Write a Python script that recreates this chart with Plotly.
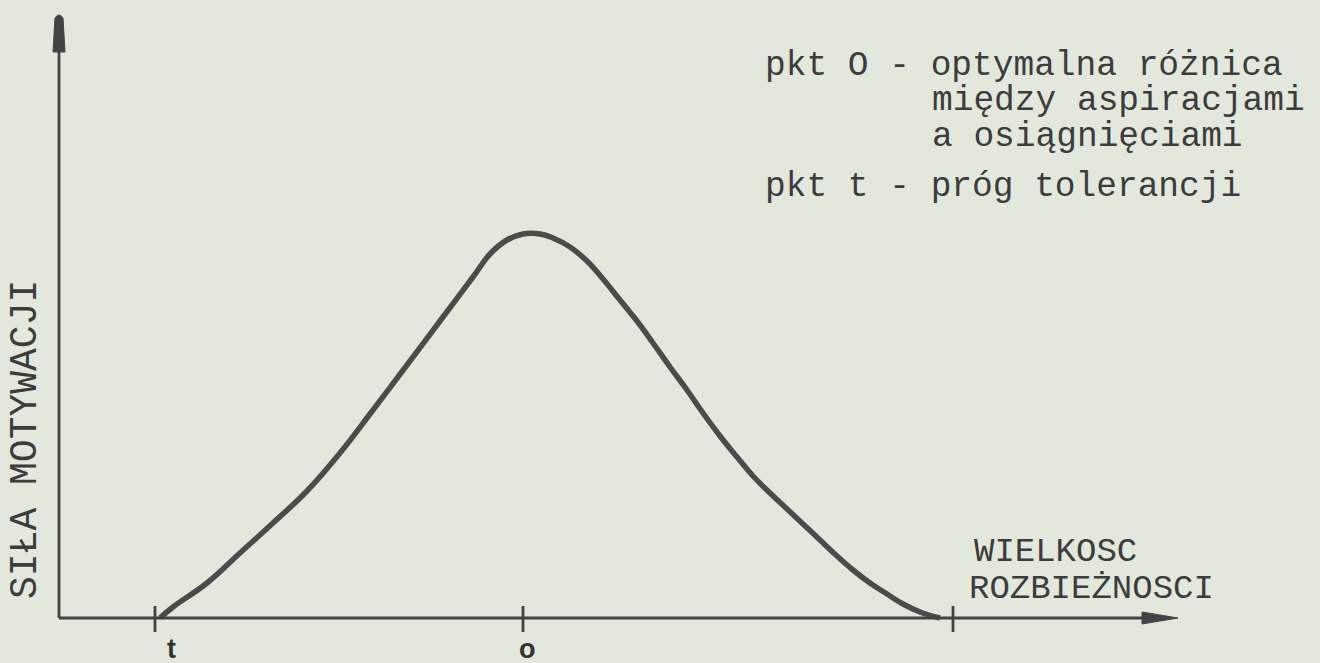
import plotly.graph_objects as go

# ---- data (arbitrary units; origin at axes crossing) ----
curve_x = [101, 114, 148, 181, 214, 248, 281, 314, 348, 381, 414, 431, 448, 464,
           481, 494, 511, 528, 544, 561, 578, 594, 611, 628, 644, 661, 678, 694,
           711, 728, 744, 761, 778, 794, 811, 828, 844, 861, 881]
curve_y = [0, 11, 35, 65, 95, 127, 165, 208, 253, 297, 341, 364, 378, 384,
           384, 380, 371, 357, 339, 318, 297, 275, 251, 228, 205, 182, 161, 142,
           125, 109, 94, 78, 62, 48, 35, 24, 14, 6, 0]

tick_x = [96, 464, 894]            # t, O, end of curve
tick_labels = ["t", "o", ""]

x_axis_end = 1119
y_axis_end = 604

legend_lines = ["pkt O - optymalna różnica", "między aspiracjami",
                "a osiągnięciami", "pkt t - próg tolerancji"]
y_title = "SIŁA MOTYWACJI"
x_title = ["WIELKOSC", "ROZBIEŻNOSCI"]

# ---- styling ----
BG = "#e3e8dc"
INK = "#3c3c3c"
LINE = "#434343"
MONO = "Liberation Mono, Courier New, monospace"

fig = go.Figure()

fig.add_trace(go.Scatter(
    x=curve_x, y=curve_y, mode="lines",
    line=dict(color="#4b4b4b", width=5.5, shape="spline", smoothing=1.2),
    hoverinfo="skip", showlegend=False))

shapes = []
# axes
shapes.append(dict(type="line", x0=0, y0=0, x1=x_axis_end - 20, y1=0,
                   line=dict(color=LINE, width=2.8)))
shapes.append(dict(type="line", x0=0, y0=0, x1=0, y1=y_axis_end - 20,
                   line=dict(color=LINE, width=2.8)))
# arrowheads
shapes.append(dict(type="path",
                   path=f"M -6 {y_axis_end-38} L -4 {y_axis_end-4} Q 0 {y_axis_end+2} 4 {y_axis_end-4} L 6 {y_axis_end-38} Z",
                   fillcolor=LINE, line=dict(color=LINE, width=1)))
shapes.append(dict(type="path",
                   path=f"M {x_axis_end-36} -6 L {x_axis_end} 0 L {x_axis_end-36} 6 Z",
                   fillcolor=LINE, line=dict(color=LINE, width=1)))
# ticks
for tx in tick_x:
    shapes.append(dict(type="line", x0=tx, y0=-14, x1=tx, y1=12,
                       line=dict(color=LINE, width=2.8)))

annotations = []
for tx, lab in zip(tick_x, tick_labels):
    if lab:
        annotations.append(dict(x=tx + (16 if lab == "t" else 4), y=-31, text=f"<b>{lab}</b>",
                                showarrow=False, xanchor="center", yanchor="middle",
                                font=dict(family="Liberation Sans, Arial", size=27, color="#333333")))

legend_pos = [(704, 553), (871, 518), (871, 482), (704, 432)]
for (lx, ly), txt in zip(legend_pos, legend_lines):
    annotations.append(dict(x=lx, y=ly, text=txt, showarrow=False,
                            xanchor="left", yanchor="middle",
                            font=dict(family=MONO, size=34.5, color=INK)))

annotations.append(dict(x=913, y=66, text=x_title[0], showarrow=False,
                        xanchor="left", yanchor="middle",
                        font=dict(family=MONO, size=34, color=INK)))
annotations.append(dict(x=908, y=29, text=x_title[1], showarrow=False,
                        xanchor="left", yanchor="middle",
                        font=dict(family=MONO, size=34, color=INK)))
annotations.append(dict(x=-34, y=178, text=y_title, showarrow=False, textangle=-90,
                        xanchor="center", yanchor="middle",
                        font=dict(family=MONO, size=38, color=INK)))

fig.update_layout(
    width=1320, height=663,
    margin=dict(l=0, r=0, t=0, b=0),
    paper_bgcolor=BG, plot_bgcolor=BG,
    xaxis=dict(range=[-59, 1261], visible=False, fixedrange=True),
    yaxis=dict(range=[-45, 618], visible=False, fixedrange=True),
    shapes=shapes, annotations=annotations,
    showlegend=False,
)

fig.write_html("out.html", config={"displayModeBar": False},
               post_script="document.body.style.margin='0';document.body.style.overflow='hidden';")
